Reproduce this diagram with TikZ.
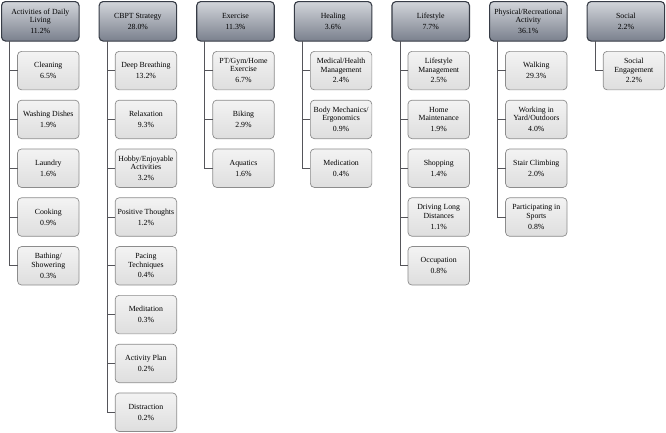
\documentclass[tikz,border=0pt]{standalone}
\usepackage{fontspec}
\setmainfont{Liberation Serif}
\usetikzlibrary{positioning}
\definecolor{hdtop}{RGB}{210,213,218}
\definecolor{hdbot}{RGB}{122,128,141}
\definecolor{hdline}{RGB}{55,60,70}
\definecolor{subtop}{RGB}{243,243,243}
\definecolor{subbot}{RGB}{222,222,222}
\definecolor{subline}{RGB}{140,140,140}
\definecolor{connline}{RGB}{85,85,90}

\begin{document}
\begin{tikzpicture}[
  x=1pt, y=1pt,
  font=\fontsize{7.8}{8.3}\selectfont,
  cat/.style={draw=hdline, line width=1.1pt, rounded corners=4pt, top color=hdtop, bottom color=hdbot, align=center, minimum width=77.5pt, minimum height=39.5pt, inner sep=1pt, outer sep=0pt},
  sub/.style={draw=subline, line width=0.7pt, rounded corners=4pt, top color=subtop, bottom color=subbot, align=center, minimum width=61.5pt, minimum height=38.5pt, inner sep=1pt, outer sep=0pt},
  conn/.style={draw=connline, line width=1pt}
]
\useasboundingbox (0,0) rectangle (666,-432);

% category headers
\node[cat, anchor=north west] (adl) at (1.55,-1.55) {Activities of Daily\\Living\\[2.5pt]11.2\%};
\node[cat, right=20.1pt of adl] (cbpt) {CBPT Strategy\\[2.5pt]28.0\%};
\node[cat, right=20.1pt of cbpt] (exer) {Exercise\\[2.5pt]11.3\%};
\node[cat, right=20.1pt of exer] (heal) {Healing\\[2.5pt]3.6\%};
\node[cat, right=20.1pt of heal] (life) {Lifestyle\\[2.5pt]7.7\%};
\node[cat, right=20.1pt of life] (phys) {Physical/Recreational\\Activity\\[2.5pt]36.1\%};
\node[cat, right=20.1pt of phys] (soc) {Social\\[2.5pt]2.2\%};

% activities of daily living
\node[sub, below left=10.3pt and 0pt of adl.south east] (clean) {Cleaning\\[2.5pt]6.5\%};
\node[sub, below=10.3pt of clean] (dish) {Washing Dishes\\[2.5pt]1.9\%};
\node[sub, below=10.3pt of dish] (laund) {Laundry\\[2.5pt]1.6\%};
\node[sub, below=10.3pt of laund] (cook) {Cooking\\[2.5pt]0.9\%};
\node[sub, below=10.3pt of cook] (bath) {Bathing/\\Showering\\[2.5pt]0.3\%};

% cbpt strategy
\node[sub, below left=10.3pt and 0pt of cbpt.south east] (breath) {Deep Breathing\\[2.5pt]13.2\%};
\node[sub, below=10.3pt of breath] (relax) {Relaxation\\[2.5pt]9.3\%};
\node[sub, below=10.3pt of relax] (hobby) {Hobby/Enjoyable\\Activities\\[2.5pt]3.2\%};
\node[sub, below=10.3pt of hobby] (posit) {Positive Thoughts\\[2.5pt]1.2\%};
\node[sub, below=10.3pt of posit] (pace) {Pacing\\Techniques\\[2.5pt]0.4\%};
\node[sub, below=10.3pt of pace] (medit) {Meditation\\[2.5pt]0.3\%};
\node[sub, below=10.3pt of medit] (plan) {Activity Plan\\[2.5pt]0.2\%};
\node[sub, below=10.3pt of plan] (distr) {Distraction\\[2.5pt]0.2\%};

% exercise
\node[sub, below left=10.3pt and 0pt of exer.south east] (gym) {PT/Gym/Home\\Exercise\\[2.5pt]6.7\%};
\node[sub, below=10.3pt of gym] (bike) {Biking\\[2.5pt]2.9\%};
\node[sub, below=10.3pt of bike] (aqua) {Aquatics\\[2.5pt]1.6\%};

% healing
\node[sub, below left=10.3pt and 0pt of heal.south east] (medmg) {Medical/Health\\Management\\[2.5pt]2.4\%};
\node[sub, below=10.3pt of medmg] (body) {Body Mechanics/\\Ergonomics\\[2.5pt]0.9\%};
\node[sub, below=10.3pt of body] (medic) {Medication\\[2.5pt]0.4\%};

% lifestyle
\node[sub, below left=10.3pt and 0pt of life.south east] (lsmg) {Lifestyle\\Management\\[2.5pt]2.5\%};
\node[sub, below=10.3pt of lsmg] (home) {Home\\Maintenance\\[2.5pt]1.9\%};
\node[sub, below=10.3pt of home] (shop) {Shopping\\[2.5pt]1.4\%};
\node[sub, below=10.3pt of shop] (drive) {Driving Long\\Distances\\[2.5pt]1.1\%};
\node[sub, below=10.3pt of drive] (occup) {Occupation\\[2.5pt]0.8\%};

% physical/recreational activity
\node[sub, below left=10.3pt and 0pt of phys.south east] (walk) {Walking\\[2.5pt]29.3\%};
\node[sub, below=10.3pt of walk] (yard) {Working in\\Yard/Outdoors\\[2.5pt]4.0\%};
\node[sub, below=10.3pt of yard] (stair) {Stair Climbing\\[2.5pt]2.0\%};
\node[sub, below=10.3pt of stair] (sport) {Participating in\\Sports\\[2.5pt]0.8\%};

% social
\node[sub, below left=10.3pt and 0pt of soc.south east] (engage) {Social\\Engagement\\[2.5pt]2.2\%};

% connectors
\foreach \c in {clean,dish,laund,cook,bath}
  \draw[conn] ([xshift=8.2pt]adl.south west) |- (\c.west);
\foreach \c in {breath,relax,hobby,posit,pace,medit,plan,distr}
  \draw[conn] ([xshift=8.2pt]cbpt.south west) |- (\c.west);
\foreach \c in {gym,bike,aqua}
  \draw[conn] ([xshift=8.2pt]exer.south west) |- (\c.west);
\foreach \c in {medmg,body,medic}
  \draw[conn] ([xshift=8.2pt]heal.south west) |- (\c.west);
\foreach \c in {lsmg,home,shop,drive,occup}
  \draw[conn] ([xshift=8.2pt]life.south west) |- (\c.west);
\foreach \c in {walk,yard,stair,sport}
  \draw[conn] ([xshift=8.2pt]phys.south west) |- (\c.west);
\draw[conn] ([xshift=8.2pt]soc.south west) |- (engage.west);
\end{tikzpicture}
\end{document}
